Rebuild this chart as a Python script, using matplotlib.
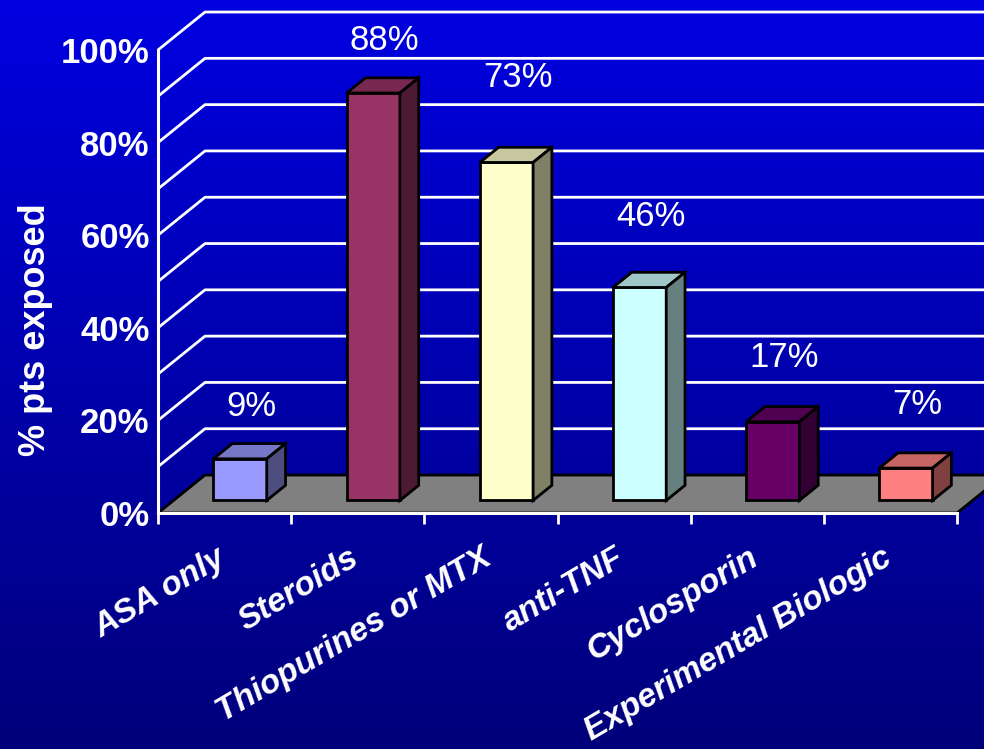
import numpy as np
import matplotlib.pyplot as plt
from matplotlib.patches import Polygon
from matplotlib.colors import to_rgb

plt.rcParams['font.family'] = ['Liberation Sans', 'DejaVu Sans']

# data
categories = ['ASA only', 'Steroids', 'Thiopurines or MTX', 'anti-TNF',
              'Cyclosporin', 'Experimental Biologic']
exposed = [9, 88, 73, 46, 17, 7]
bar_colors = ['#9999FF', '#993366', '#FFFFCC', '#CCFFFF', '#660066', '#FF8080']
ytick_vals = [0, 20, 40, 60, 80, 100]
ytick_labels = ['0%', '20%', '40%', '60%', '80%', '100%']

# fake 3-D look: floor depth and where the bars sit in it (data units)
DX, DY = 0.353, 8.2
bar_front = 0.33        # fraction of floor depth where bar front face sits
bar_depth = 0.40        # bar depth as fraction of floor depth
bar_width = 0.4
label_lift = [14, 14, 21, 18, 16.5, 16.5]   # Excel put the value labels a bit unevenly

fig = plt.figure(figsize=(9.84, 7.49), dpi=100)

# blue gradient background
bg = fig.add_axes([0, 0, 1, 1])
grad = np.linspace(0, 1, 256).reshape(-1, 1)
top_c = np.array([0.0, 0.0, 0.88])
bot_c = np.array([0.0, 0.0, 0.48])
img = top_c + (bot_c - top_c) * grad[:, :, None]
bg.imshow(img, aspect='auto', extent=[0, 1, 0, 1])
bg.axis('off')

ax = fig.add_axes([158 / 984, (749 - 513) / 749, 799 / 984, 463 / 749])
ax.patch.set_alpha(0)
ax.set_xlim(-0.5, 5.5)
ax.set_ylim(0, 100)

# back wall gridlines
for v in range(10, 101, 10):
    ax.plot([-0.5, -0.5 + DX, 7], [v, v + DY, v + DY], color='white', lw=2,
            clip_on=False, zorder=1, solid_capstyle='butt')

# grey floor
floor = Polygon([(-0.5, 0), (5.5, 0), (5.5 + DX, DY), (-0.5 + DX, DY)],
                closed=True, facecolor='#808080', edgecolor='black', lw=2,
                clip_on=False, zorder=1.5)
ax.add_patch(floor)

# bars: front face, top and side
fx, fy = DX * bar_front, DY * bar_front
bx, by = DX * bar_depth, DY * bar_depth
xs = np.arange(len(categories))
ax.bar(xs + fx, exposed, bottom=fy, width=bar_width, color=bar_colors,
       edgecolor='black', linewidth=2, zorder=3)
for i, (v, c) in enumerate(zip(exposed, bar_colors)):
    rgb = np.array(to_rgb(c))
    x0 = i + fx - bar_width / 2
    x1 = i + fx + bar_width / 2
    ytop = fy + v
    top = Polygon([(x0, ytop), (x1, ytop), (x1 + bx, ytop + by), (x0 + bx, ytop + by)],
                  closed=True, facecolor=rgb * 0.78, edgecolor='black', lw=2,
                  zorder=3, clip_on=False)
    side = Polygon([(x1, fy), (x1 + bx, fy + by), (x1 + bx, ytop + by), (x1, ytop)],
                   closed=True, facecolor=rgb * 0.5, edgecolor='black', lw=2,
                   zorder=3, clip_on=False)
    ax.add_patch(top)
    ax.add_patch(side)
    ax.text(i + 0.2, v + label_lift[i], f'{v}%', ha='center', va='center',
            color='white', fontsize=25, clip_on=False, zorder=4)
    ax.text(i - 0.07, -6.3, categories[i], rotation=30.5, rotation_mode='anchor',
            ha='right', va='top', color='white', fontsize=24,
            fontweight='bold', fontstyle='italic')

# axes
ax.set_yticks(ytick_vals)
ax.set_yticklabels(ytick_labels, fontsize=25, fontweight='bold', color='white')
ax.tick_params(axis='y', length=0, pad=6)
ax.set_xticks(np.arange(-0.5, 6, 1))
ax.set_xticklabels([])
ax.tick_params(axis='x', direction='out', length=8, width=2, color='white')
for s in ['top', 'right']:
    ax.spines[s].set_visible(False)
for s in ['left', 'bottom']:
    ax.spines[s].set_color('white')
    ax.spines[s].set_linewidth(2.2)
    ax.spines[s].set_zorder(2.5)

ax.set_ylabel('% pts exposed', fontsize=26, fontweight='bold', color='white')
ax.yaxis.set_label_coords(-0.131, 0.395)

fig.savefig('out.png', dpi=100)
